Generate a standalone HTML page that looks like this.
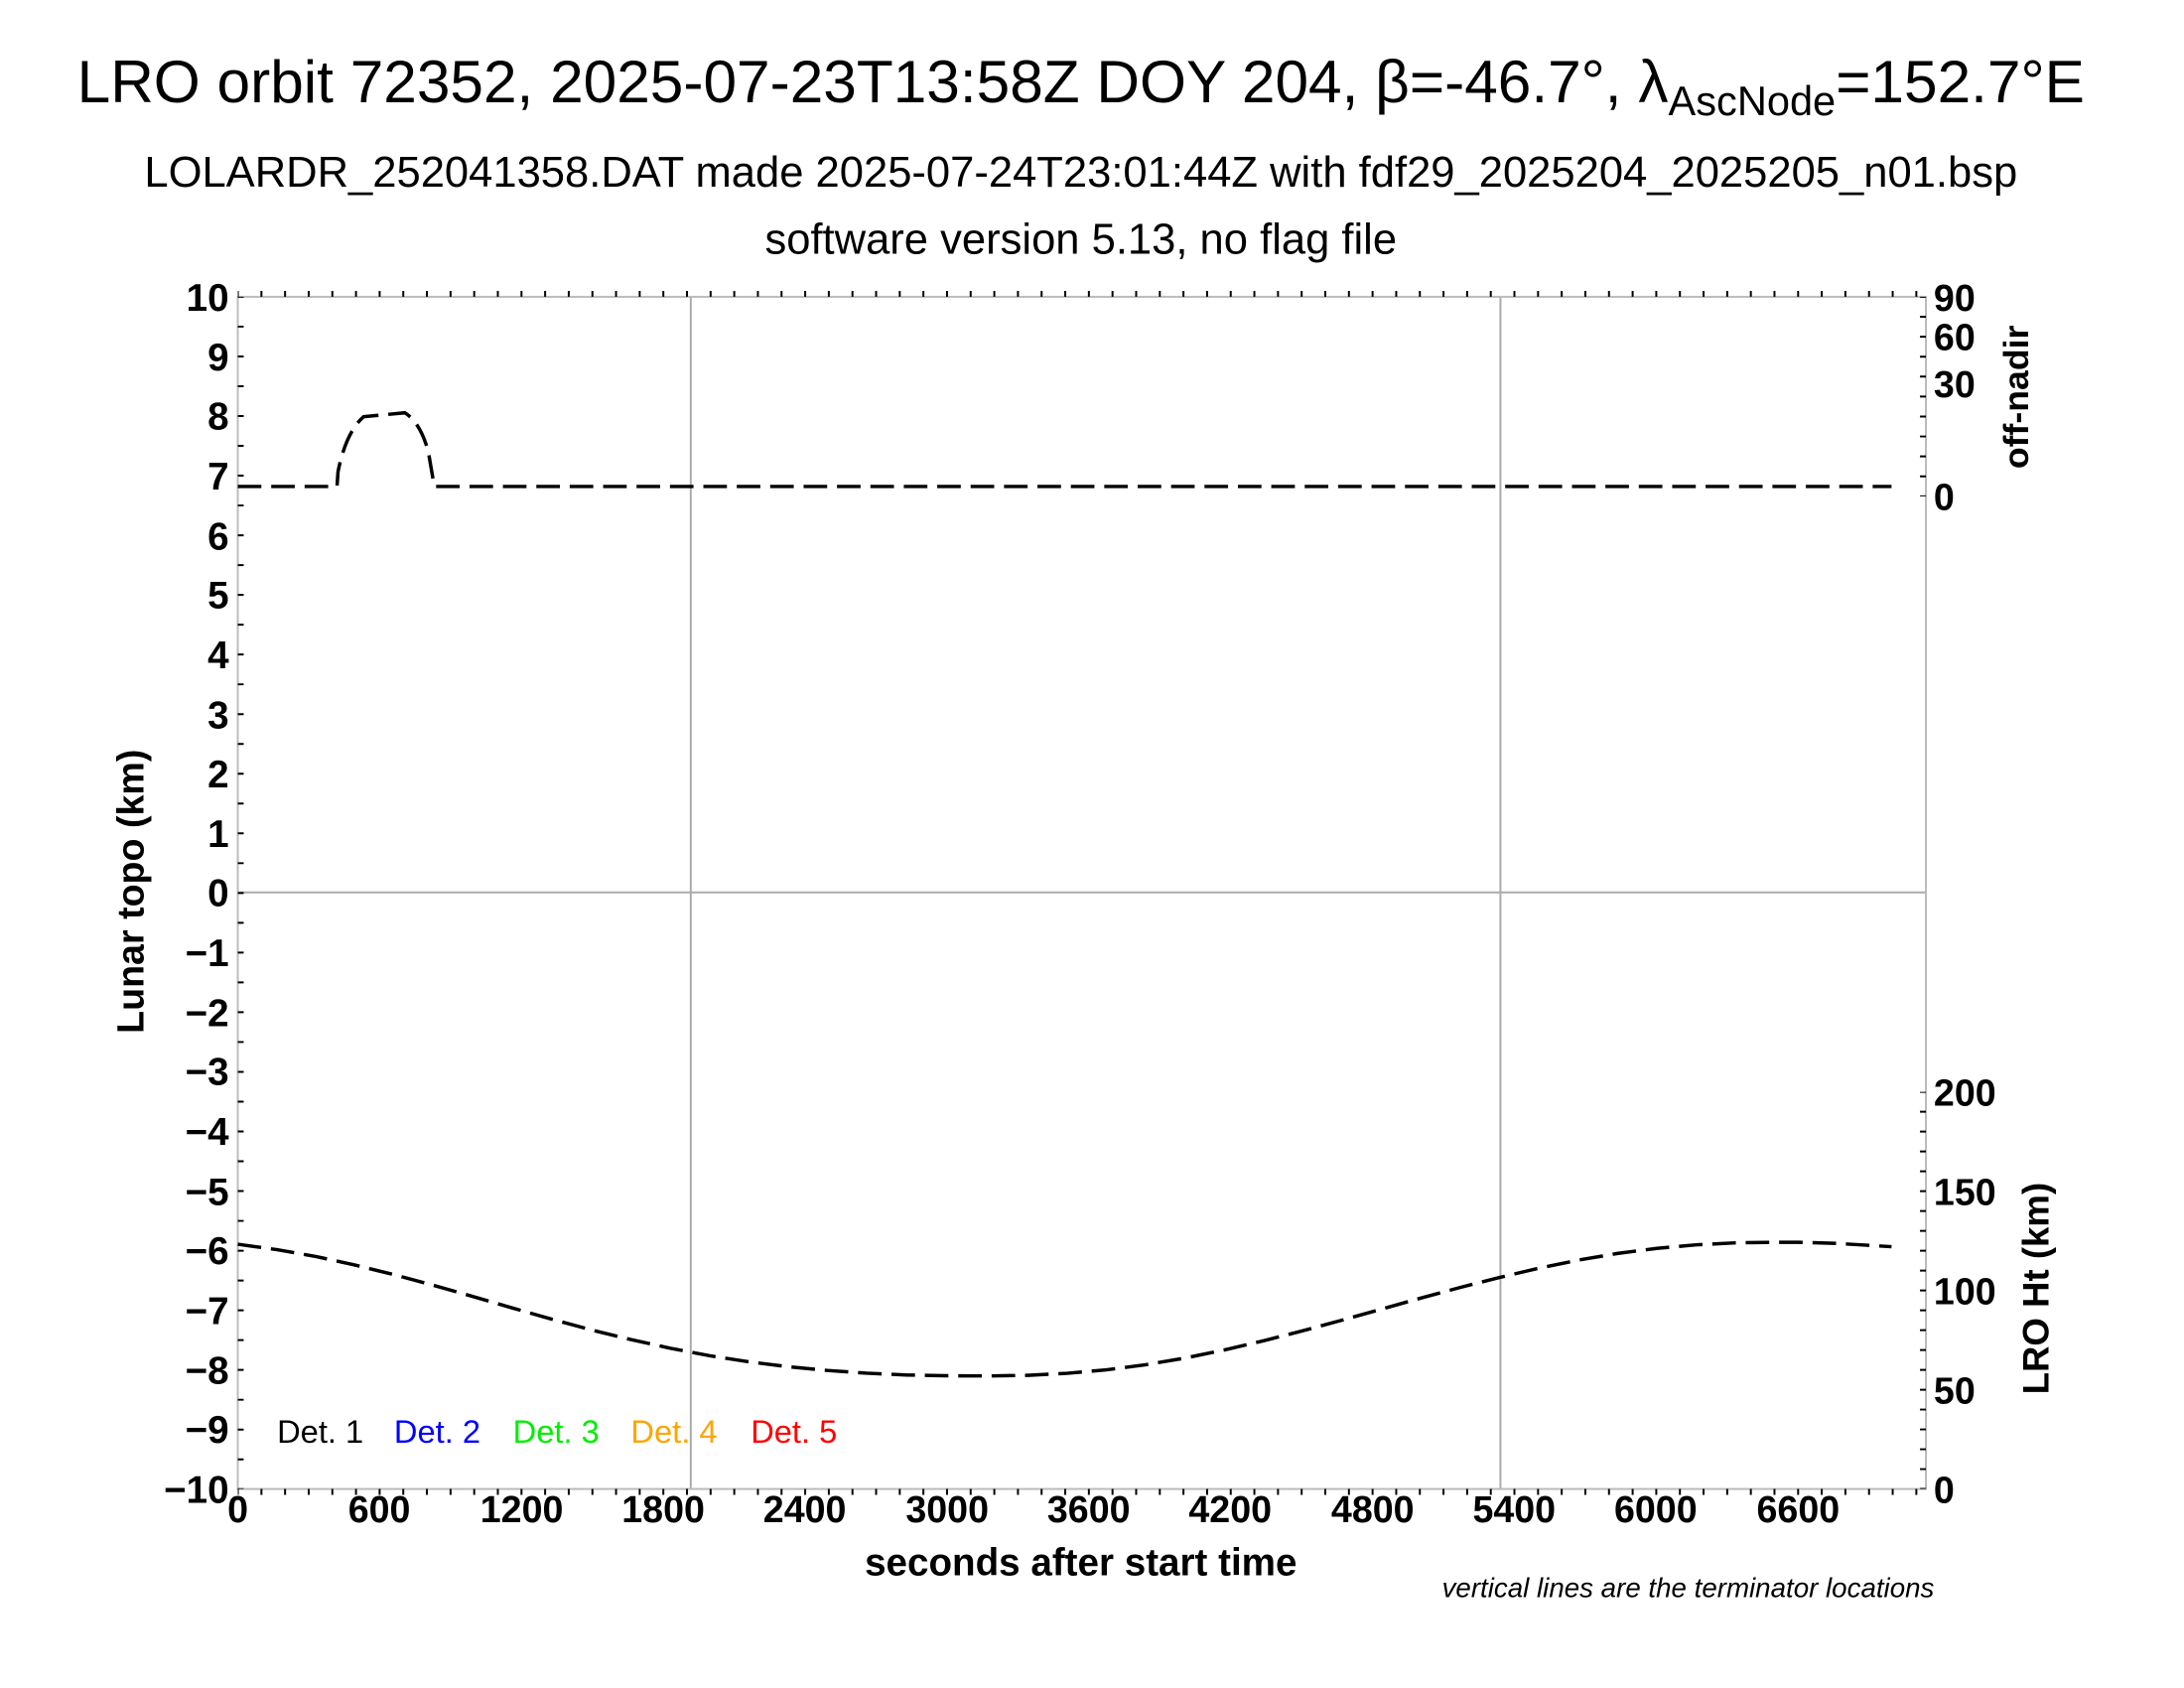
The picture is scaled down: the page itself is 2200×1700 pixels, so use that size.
<!DOCTYPE html>
<html><head><meta charset="utf-8"><style>
html,body{margin:0;padding:0;background:#fff;}
svg{display:block;font-family:"Liberation Sans",sans-serif;}
</style></head><body>
<svg width="2200" height="1700" viewBox="0 0 2200 1700" xmlns="http://www.w3.org/2000/svg">
<rect width="2200" height="1700" fill="#fff"/>
<g transform="scale(0.9898)">
<text x="1100" y="104" font-size="61" text-anchor="middle">LRO orbit 72352, 2025-07-23T13:58Z DOY 204, β=-46.7°, λ<tspan font-size="42" dy="13">AscNode</tspan><tspan dy="-13">=152.7°E</tspan></text>
<text x="1100" y="190" font-size="44" text-anchor="middle">LOLARDR_252041358.DAT made 2025-07-24T23:01:44Z with fdf29_2025204_2025205_n01.bsp</text>
<text x="1100" y="258" font-size="44" text-anchor="middle">software version 5.13, no flag file</text>
<g stroke="#aaa" stroke-width="2">
<line x1="703" y1="302" x2="703" y2="1515"/>
<line x1="1527" y1="302" x2="1527" y2="1515"/>
<line x1="242" y1="908" x2="1960" y2="908"/>
</g>
<rect x="242" y="302" width="1718" height="1213" fill="none" stroke="#bbb" stroke-width="2"/>
<g stroke="#000">
<line x1="245" y1="302" x2="245" y2="1515" stroke-width="6" stroke-dasharray="2 28.33" stroke-dashoffset="1"/>
<line x1="242" y1="299" x2="1960" y2="299" stroke-width="6" stroke-dasharray="2 22.06" stroke-dashoffset="1"/>
<line x1="242" y1="1518" x2="1960" y2="1518" stroke-width="6" stroke-dasharray="2 22.06" stroke-dashoffset="1"/>
<line x1="1957" y1="1111" x2="1957" y2="1515" stroke-width="6" stroke-dasharray="2 18.2" stroke-dashoffset="1"/>
<line x1="1957" y1="302" x2="1957" y2="505" stroke-width="6" stroke-dasharray="2 18.3" stroke-dashoffset="1"/>
</g>
<g font-size="39" font-weight="bold" text-anchor="end">
<text x="233" y="316">10</text><text x="233" y="377">9</text><text x="233" y="437">8</text><text x="233" y="498">7</text><text x="233" y="559">6</text><text x="233" y="619">5</text><text x="233" y="680">4</text><text x="233" y="741">3</text><text x="233" y="801">2</text><text x="233" y="862">1</text><text x="233" y="922">0</text>
<text x="233" y="983">−1</text><text x="233" y="1044">−2</text><text x="233" y="1104">−3</text><text x="233" y="1165">−4</text><text x="233" y="1226">−5</text><text x="233" y="1286">−6</text><text x="233" y="1347">−7</text><text x="233" y="1408">−8</text><text x="233" y="1468">−9</text><text x="233" y="1529">−10</text>
</g>
<g font-size="38" font-weight="bold" text-anchor="middle">
<text x="242" y="1549">0</text><text x="386" y="1549">600</text><text x="531" y="1549">1200</text><text x="675" y="1549">1800</text><text x="819" y="1549">2400</text><text x="964" y="1549">3000</text><text x="1108" y="1549">3600</text><text x="1252" y="1549">4200</text><text x="1397" y="1549">4800</text><text x="1541" y="1549">5400</text><text x="1685" y="1549">6000</text><text x="1830" y="1549">6600</text>
</g>
<g font-size="38" font-weight="bold" text-anchor="start">
<text x="1968" y="316">90</text><text x="1968" y="356">60</text><text x="1968" y="404">30</text><text x="1968" y="519">0</text>
<text x="1968" y="1125">200</text><text x="1968" y="1226">150</text><text x="1968" y="1327">100</text><text x="1968" y="1428">50</text><text x="1968" y="1529">0</text>
</g>
<text x="1100" y="1603" font-size="39" font-weight="bold" text-anchor="middle">seconds after start time</text>
<text transform="translate(146,907) rotate(-90)" font-size="38" font-weight="bold" text-anchor="middle">Lunar topo (km)</text>
<text transform="translate(2064,404) rotate(-90)" font-size="36" font-weight="bold" text-anchor="middle">off-nadir</text>
<text transform="translate(2085,1311) rotate(-90)" font-size="37" font-weight="bold" text-anchor="middle">LRO Ht (km)</text>
<text x="1718" y="1625" font-size="28" font-style="italic" text-anchor="middle">vertical lines are the terminator locations</text>
<g font-size="33" text-anchor="middle">
<text x="326" y="1468" fill="#000">Det. 1</text>
<text x="445" y="1468" fill="#0000ff">Det. 2</text>
<text x="566" y="1468" fill="#00ee00">Det. 3</text>
<text x="686" y="1468" fill="#ffa500">Det. 4</text>
<text x="808" y="1468" fill="#ff0000">Det. 5</text>
</g>
<path d="M242,495 L343,495 L344,480 Q352,440 370,424 L412,420 Q428,430 436,460 L442,495 L1925,495" fill="none" stroke="#000" stroke-width="3.5" stroke-dasharray="24 10"/>
<path fill="none" stroke="#000" stroke-width="3.5" stroke-dasharray="24 10" d="M242,1266 L282,1271.5 L322,1278.6 L362,1287.3 L402,1297.2 L442,1308 L482,1319.4 L522,1331 L562,1342.4 L602,1353.2 L642,1363 L682,1371.8 L722,1379.4 L762,1385.6 L802,1390.6 L842,1394.4 L882,1397.2 L922,1399 L962,1399.8 L1006,1400 L1046,1399.4 L1086,1397.3 L1126,1393.8 L1166,1388.6 L1206,1381.8 L1246,1373.6 L1286,1364.2 L1326,1354 L1366,1343.2 L1406,1332 L1446,1320.8 L1486,1310 L1526,1299.8 L1566,1290.4 L1606,1282.2 L1646,1275.4 L1686,1270.2 L1726,1266.6 L1766,1264.6 L1806,1264 L1830,1264 L1866,1265 L1900,1267 L1925,1268.5"/>
</g>
</svg>
</body></html>
